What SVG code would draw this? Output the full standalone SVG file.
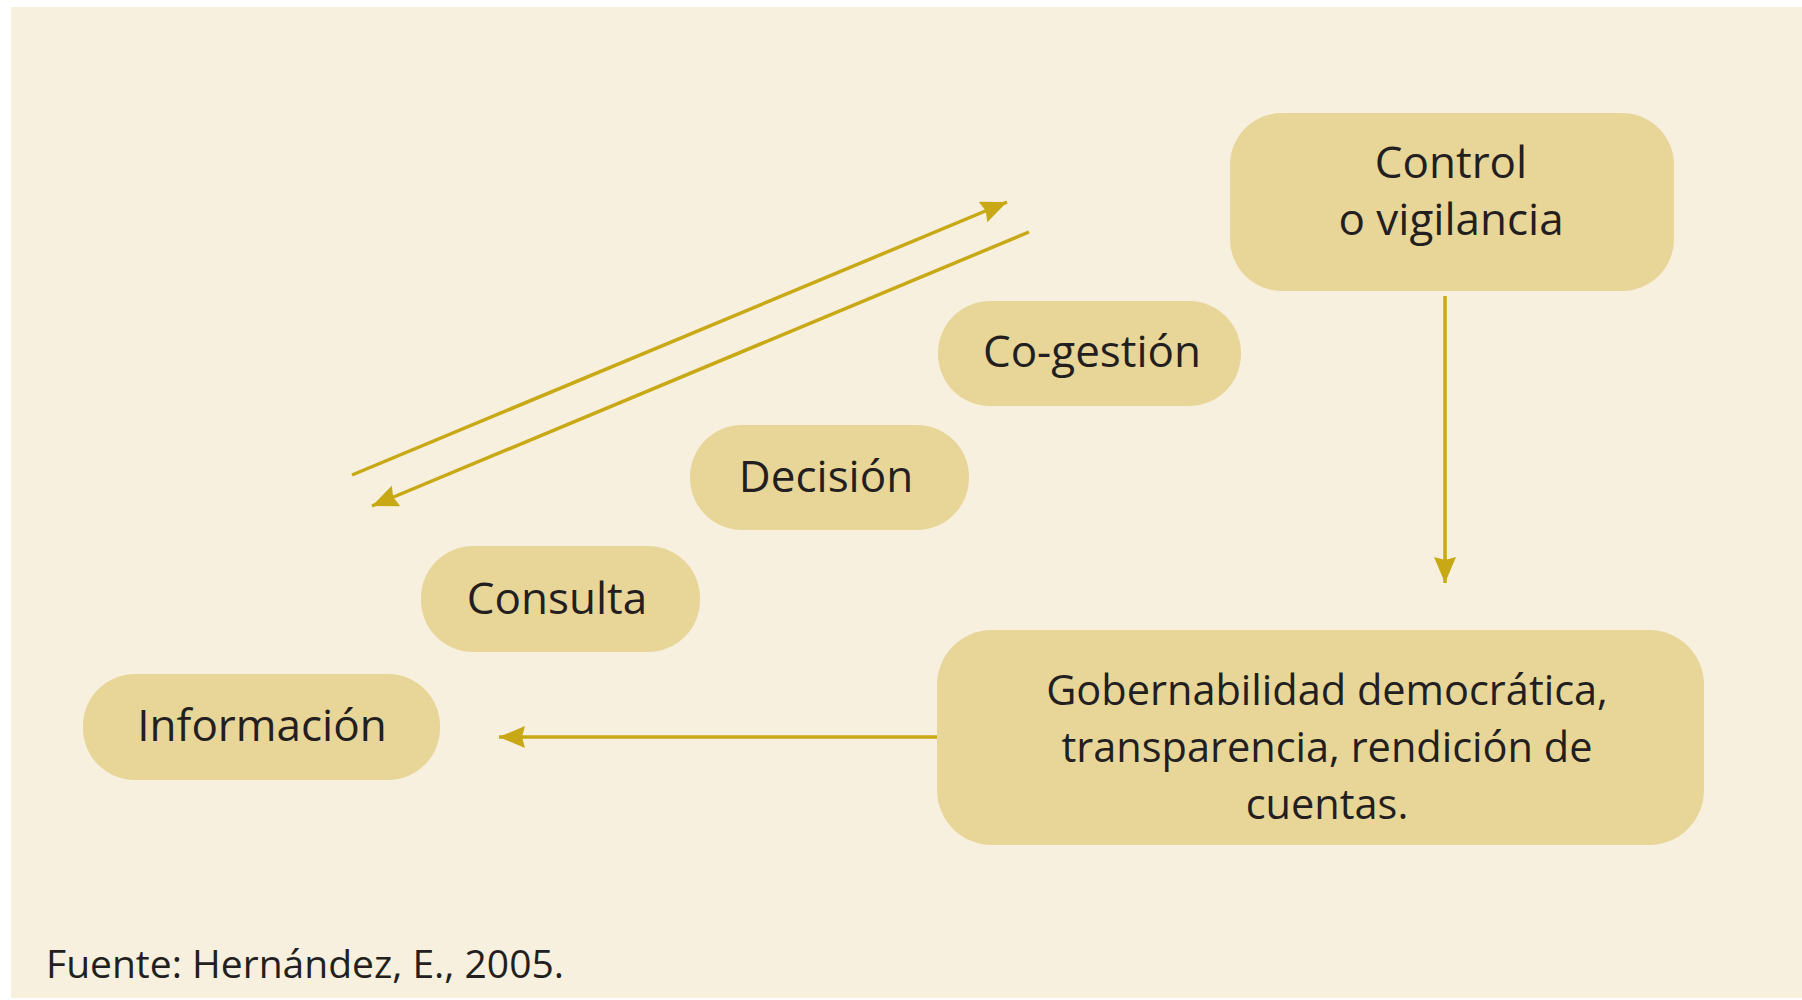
<svg xmlns="http://www.w3.org/2000/svg" width="1802" height="1000" viewBox="0 0 1802 1000">
<style>
.box{fill:#e8d598}
.t{font-family:"Open Sans","Noto Sans",sans-serif;font-size:44px;fill:#231f20;text-anchor:middle}
.t2{font-size:41.5px}
.src{font-family:"Open Sans","Noto Sans",sans-serif;font-size:39px;fill:#231f20}
.c{stroke:#c8a814;stroke-width:3.5;fill:none;marker-end:url(#ah)}
</style>
<defs>
<marker id="ah" markerUnits="userSpaceOnUse" markerWidth="28" markerHeight="24" refX="26" refY="11" orient="auto">
<path d="M0,0 L26,11 L0,22 L3,11 z" fill="#c8a814"/>
</marker>
</defs>
<rect x="11" y="7" width="1791" height="991" fill="#f7f0de"/>
<g id="control"><rect class="box" x="1230" y="113" width="444" height="178" rx="52"/><text class="t" x="1451" y="178">Control</text><text class="t" x="1451" y="235">o vigilancia</text></g>
<g id="cogestion"><rect class="box" x="938" y="301" width="303" height="105" rx="52"/><text class="t" x="1092" y="367">Co-gestión</text></g>
<g id="decision"><rect class="box" x="690" y="425" width="279" height="105" rx="52"/><text class="t" x="826" y="492">Decisión</text></g>
<g id="consulta"><rect class="box" x="421" y="546" width="279" height="106" rx="52"/><text class="t" x="557" y="614">Consulta</text></g>
<g id="informacion"><rect class="box" x="83" y="674" width="357" height="106" rx="52"/><text class="t" x="262" y="741">Información</text></g>
<g id="gobernabilidad"><rect class="box" x="937" y="630" width="767" height="215" rx="55"/><text class="t t2" x="1327" y="705">Gobernabilidad democrática,</text><text class="t t2" x="1327" y="762">transparencia, rendición de</text><text class="t t2" x="1327" y="819">cuentas.</text></g>
<g id="connectors">
<line class="c" x1="352" y1="475" x2="1007" y2="202"/>
<line class="c" x1="1029" y1="232" x2="372" y2="506"/>
<line class="c" x1="1445" y1="296" x2="1445" y2="583"/>
<line class="c" x1="937" y1="737" x2="499" y2="737"/>
</g>
<text class="src" x="46" y="978">Fuente: Hernández, E., 2005.</text>
</svg>
